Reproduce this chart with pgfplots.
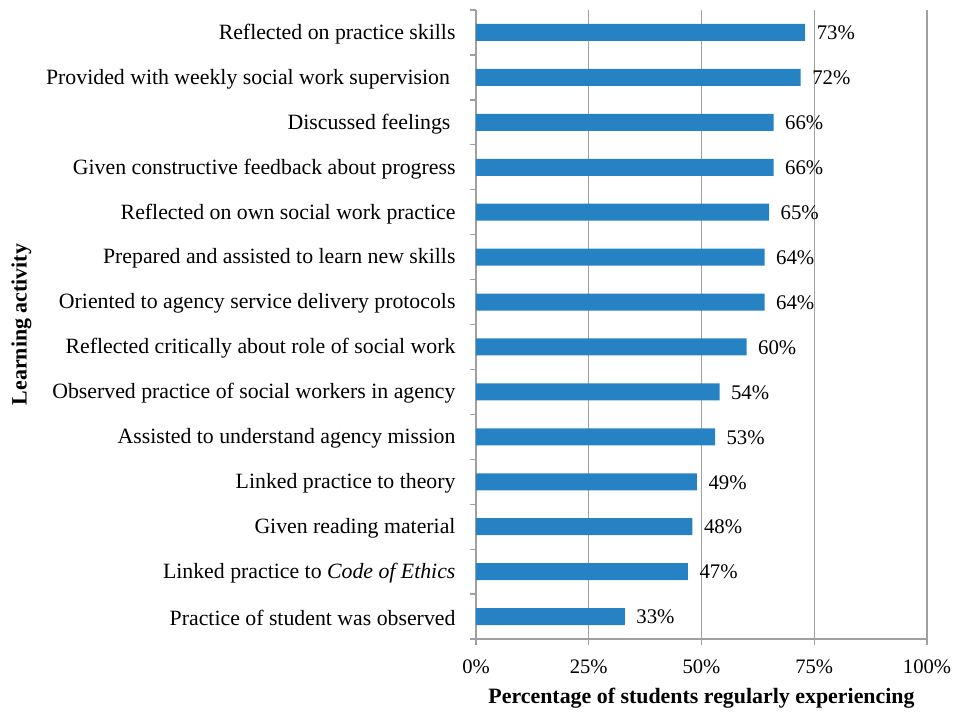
\documentclass[border=0pt]{standalone}
\usepackage{pgfplots}
\pgfplotsset{compat=1.18}
\usetikzlibrary{calc}
\usepackage{fontspec}
\setmainfont{Liberation Serif}
\definecolor{barblue}{HTML}{2782C4}
\definecolor{gridgray}{HTML}{A0A0A0}
\begin{document}
\begin{tikzpicture}
\begin{axis}[
  name=ax,
  scale only axis,
  width=451pt, height=629pt,
  xbar, bar width=17pt,
  xmin=0, xmax=100,
  ymin=-0.5, ymax=13.5,
  y dir=reverse,
  axis x line*=bottom, axis y line*=left,
  axis line style={gridgray, line width=1.3pt, -},
  xtick={0,25,50,75,100},
  xticklabels={0\%,25\%,50\%,75\%,100\%},
  xmajorgrids, major grid style={gridgray, line width=1.3pt},
  ytick={0,...,13},
  yticklabels={
    Reflected on practice skills,
    Provided with weekly social work supervision\kern5.5pt,
    Discussed feelings\kern5pt,
    Given constructive feedback about progress,
    Reflected on own social work practice,
    Prepared and assisted to learn new skills,
    Oriented to agency service delivery protocols,
    Reflected critically about role of social work,
    Observed practice of social workers in agency,
    Assisted to understand agency mission,
    Linked practice to theory,
    Given reading material,
    Linked practice to \textit{Code of Ethics},
    Practice of student was observed},
  minor ytick={-0.5,0.5,...,13.5},
  tick align=outside,
  tick style={gridgray, line width=1.3pt},
  major tick length=6pt,
  minor tick length=6pt,
  major y tick style={draw=none},
  yticklabel style={font=\fontsize{21.8}{24}\selectfont, xshift=-11pt, yshift=-1.5pt},
  xticklabel style={font=\fontsize{20.6}{23}\selectfont, anchor=base, yshift=-28pt},
  /pgf/number format/assume math mode=true,
  xlabel={\textbf{Percentage of students regularly experiencing}},
  ylabel={\textbf{Learning activity}},
  label style={font=\fontsize{21.9}{24}\selectfont},
  xlabel style={at={(axis description cs:0.5,-0.103)}, anchor=base},
  ylabel style={at={(axis description cs:-1.008,0.5)}, anchor=center},
  point meta=x,
  nodes near coords={\pgfmathprintnumber{\pgfplotspointmeta}\%},
  nodes near coords style={anchor=west, xshift=8pt, yshift=-0.5pt, font=\fontsize{20.8}{23}\selectfont, text=black},
]
\addplot[fill=barblue, draw=none] coordinates {
  (73,0) (72,1) (66,2) (66,3) (65,4) (64,5) (64,6)
  (60,7) (54,8) (53,9) (49,10) (48,11) (47,12) (33,13)
};
\end{axis}
\path ($(ax.south west)+(-476pt,-71pt)$) rectangle ($(ax.south west)+(481pt,639pt)$);
\end{tikzpicture}
\end{document}
